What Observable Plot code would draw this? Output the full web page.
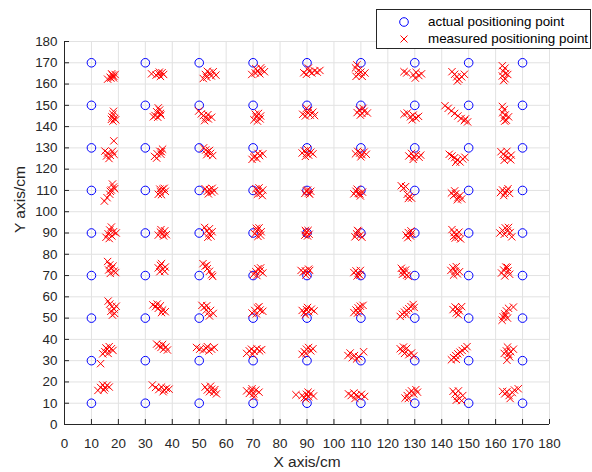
<!DOCTYPE html>
<html>
<head>
<meta charset="utf-8">
<script src="https://cdn.jsdelivr.net/npm/d3@7"></script>
<script src="https://cdn.jsdelivr.net/npm/@observablehq/plot@0.6"></script>
<style>
  html, body { margin: 0; padding: 0; background: white; }
  #wrap { position: relative; width: 592px; height: 472px; font-family: "Liberation Sans", Arial, Helvetica, sans-serif; }
  #legend { position: absolute; left: 376px; top: 9px; width: 213px; height: 38px; border: 1px solid #262626; background: white; font-size: 13.4px; color: #000; }
  .row { position: absolute; left: 0; height: 16px; line-height: 16px; white-space: nowrap; }
  .row svg { position: absolute; left: 21px; top: 2px; }
  .row span { position: absolute; left: 51px; top: 0; }
</style>
</head>
<body>
<div id="wrap">
  <div id="chart"></div>
  <div id="legend">
    <div class="row" style="top:4px"><svg width="12" height="12"><circle cx="6" cy="6" r="4.3" fill="none" stroke="#0000ff" stroke-width="1"/></svg><span>actual positioning point</span></div>
    <div class="row" style="top:21px"><svg width="12" height="12"><path d="M2.5,2.5L9.5,9.5M9.5,2.5L2.5,9.5" stroke="#ff0000" stroke-width="1"/></svg><span>measured positioning point</span></div>
  </div>
</div>
<script>
const xTicks = [0, 10, 20, 30, 40, 50, 60, 70, 80, 90, 100, 110, 120, 130, 140, 150, 160, 170, 180];
const yTicks = [0, 10, 20, 30, 40, 50, 60, 70, 80, 90, 100, 110, 120, 130, 140, 150, 160, 170, 180];
const actualX = [10, 30, 50, 70, 90, 110, 130, 150, 170];
const actualY = [10, 30, 50, 70, 90, 110, 130, 150, 170];

const measuredRow170 = [
  [16,162.3],[17,163.2],[17.8,164.2],[18.3,163.6],[17.5,164.8],[18.8,164.5],[17.2,162.8],[18.2,162.9],
  [32.3,164.8],[34,164.2],[35,164.9],[35.6,163.6],[36.2,165.3],[36.8,164.5],[35.2,165.6],
  [51.5,162.6],[52.3,164.5],[53,166],[53.8,165.2],[54.5,163.8],[55.2,165.8],[56.2,164.2],[52.8,163.2],
  [69.5,164.5],[70.8,165.2],[71.8,166],[72.5,164.8],[73.3,166.8],[74.2,165.8],[71,167.2],[72.8,167.6],
  [88.8,165.3],[89.8,164.6],[90.8,166],[91.8,165.2],[92.8,166.2],[93.8,165.6],[94.8,166.4],[90.5,167.5],
  [108.5,169],[108,167.6],[109.2,166.5],[110,165.6],[109,164.6],[110.5,163.6],[111.5,165.2],[108.2,163.6],
  [126,165.8],[127,165.2],[129.5,164.3],[130.5,165.5],[131.5,164],[132.5,164.8],[130.2,162.8],
  [143.8,165.8],[144.8,164.6],[145.6,163.4],[146.4,162.2],[147.4,163.4],[148.4,164.6],[145.8,161.4],
  [162.5,168.6],[163.5,167.5],[162.8,166],[163.8,165],[162.5,163.8],[163.5,162.5],[164.5,164.5],[163,161.6]
];
const measuredRow150 = [
  [18.2,147.2],[18,145.8],[17.6,144.6],[18.6,143.8],[18,142.6],[19,143.2],[17.4,143.4],
  [34.8,148.8],[35.3,147.8],[34.2,147],[35.6,146.2],[33.6,145.2],[34.6,144.4],[33,144.6],[35.8,145.4],
  [49.8,147.3],[50.8,146],[51.6,145.2],[52.4,144.2],[53.4,143.6],[54.6,144.4],[52,142.8],[53.2,145.6],
  [70.3,143.2],[71.2,144.6],[72,146.2],[72.8,145],[71.6,142.6],[72.6,143.6],[70.8,145.8],
  [88.4,145.8],[89.4,145],[90.4,146.5],[91.2,145.4],[92.2,146.8],[89.8,148.6],[90.6,147.6],[92.8,145.2],
  [108.6,146.6],[109.4,147.8],[110.4,146.2],[111.2,147.2],[112.4,146.4],[109.8,145.4],[110.8,148.6],
  [126,145.8],[127.2,146.4],[128.4,144.6],[129.4,145.4],[130.4,144],[131.4,144.8],[129,143.2],
  [141.2,149.8],[142.4,148.6],[143.6,147.4],[144.8,146.2],[146,145],[147.2,143.8],[148.4,142.8],[149.6,142.2],[148.8,143.6],
  [162.5,149.5],[163.2,148],[162.6,146.5],[163.6,145.5],[163,144],[164,143],[164.8,144.6],[163.4,142.6]
];
const measuredRow130 = [
  [18.3,133.3],[15,128.5],[16,127.6],[17,126.5],[16.5,125],[17.8,128.4],[18.4,127],[15.6,126.2],
  [33.4,126],[34.4,127.2],[35.4,128.4],[36.4,129.4],[35.8,127],[34.2,125.2],[36,128.2],
  [51.6,130],[52.4,129],[53.2,128.2],[54.2,127.4],[55,126.4],[53.8,128.8],[52.8,126.8],
  [69.6,124.6],[70.6,126.2],[71.4,125],[72.4,126.4],[73.6,127.2],[71.8,127.4],[70.2,125.6],
  [88.2,127.6],[89,128.6],[89.8,127.4],[90.6,126.6],[91.4,128],[92.2,127.2],[90.2,129.2],[89.4,126],
  [108,127.2],[108.8,128.4],[109.6,127.6],[110.4,126.8],[111.2,128],[112,127],[110,125.8],
  [127.8,126.2],[128.8,127.4],[129.6,125.8],[130.6,126.8],[131.6,125.6],[132.2,126.6],[129.4,124.6],
  [142.8,127],[143.8,126.2],[144.8,125.4],[145.8,124.4],[146.8,123.4],[147.8,124.8],[148.6,125.6],[145.2,123.2],
  [162,128.2],[162.8,127],[163.6,126.2],[164.6,125.4],[165.6,124.4],[163.2,124.2],[164.2,128.4],[165.8,126.6]
];
const measuredRow110 = [
  [14.8,105],[15.8,106.6],[16.8,108.2],[17.4,110.2],[18.2,111.6],[17.8,113],[17,109.6],[18.6,110.8],
  [34.8,108.2],[35.6,109.4],[36.4,110.6],[37.4,109.6],[36,108],[37,111],[35.4,110.6],
  [52.2,110.8],[53,109.6],[53.8,110.4],[54.6,109.2],[55.6,109.8],[53.4,108.4],[54.8,111],
  [71,110.8],[71.8,109.6],[72.6,108.6],[73.4,107.6],[72.2,111.2],[73.6,110.2],[71.6,108.2],
  [89.2,108.6],[89.8,109.8],[90.6,108.8],[91.4,109.6],[90.2,110.2],[91,108.2],
  [107.4,108.4],[108.2,109.6],[109,108.6],[109.8,107.4],[110.6,109.2],[108.6,110.6],[109.6,108.4],
  [125,112.2],[125.8,111],[126.6,111.8],[127.2,108.2],[128,107.2],[128.8,106.4],[127.6,106.2],
  [143.6,108.8],[144.4,107.6],[145.2,108.4],[146,106.6],[146.8,107.6],[147.4,106],[144.8,109.8],[145.8,105.6],
  [161.8,109],[162.6,110.2],[163.4,108.8],[164.2,109.8],[165.2,108.6],[163,107.6],[164.6,110.8]
];
const measuredRow90 = [
  [15.4,88],[16.2,89.6],[16.8,91.4],[17.4,92.8],[18.2,90.6],[19.2,90],[17.6,88.6],[16.6,87.4],
  [34.8,89],[35.6,90.4],[36.4,89.6],[37.2,91],[37.8,89.2],[35.8,91.6],[36.8,88.6],
  [52,92.6],[52.8,91],[53.6,89.8],[54.4,88.6],[53.2,88],[54.8,90.6],[53.8,92],
  [70.6,89.6],[71.4,91],[72.2,92.4],[72.8,89],[71.8,88.4],[73,90.6],[71.2,92.2],
  [89.2,89],[89.8,90.4],[90.4,91.2],[90.8,89.4],[89.4,91.2],[90.2,88.6],
  [107.8,88.2],[108.4,89.6],[109,90.8],[109.8,89],[110.4,88],[108.8,91.2],
  [126.8,89],[127.6,90.2],[128.4,88.6],[128.8,89.8],[127.4,87.8],[128.6,91],
  [143.8,91.6],[144.6,90.2],[145.4,89],[146.2,88],[147,87.2],[145,87.6],[146.4,90.4],[144.4,88.4],
  [161.6,90],[162.6,91.2],[163.6,92.4],[164.4,91],[165.4,90.2],[166,88.2],[163.2,89.4],[164.8,92.6]
];
const measuredRow70 = [
  [16,76.6],[16.8,75],[17.4,73.2],[18.4,72],[19,71.4],[17,71],[18,74.4],[16.4,72.6],
  [34.8,73.6],[35.6,74.8],[36.4,73],[37.2,72],[36,75.6],[37.4,74],[35.4,71.8],
  [51.4,75.6],[52.2,74.4],[53,73.2],[53.8,72],[54.6,70.4],[55,69.6],[52.8,74.8],
  [70.2,70.6],[71,71.8],[71.8,73.2],[72.6,72.2],[73.6,71.2],[71.4,70],[72.8,73.6],
  [87.8,72.4],[88.6,71.6],[89.4,72.2],[90.2,71],[91,72.4],[89.6,70.2],[90.6,73],
  [107.4,71.4],[108.2,72.2],[109,71],[109.6,70.2],[108.6,69.8],[109.8,72.4],
  [125,73.4],[125.6,72.2],[126.2,71.2],[127,70.2],[127.6,69.6],[126.6,72.6],[125.4,70.6],
  [143.4,72.4],[144.2,73.6],[145,72],[145.8,70.8],[146.6,71.8],[144.4,70.2],[145.4,74.2],
  [162.2,71.2],[163,72.6],[163.8,74],[164.6,72.2],[165.2,70.6],[163.4,69.8],[164.4,73.8]
];
const measuredRow50 = [
  [16.2,58],[16.8,56.6],[17.6,55.4],[18.4,54.2],[17.2,53.2],[18.6,52.2],[17.8,51.4],[19.2,55.6],
  [32.8,56.2],[33.8,55.4],[34.8,54.6],[35.6,55.8],[36.4,53.8],[37.4,53],[36,52.6],[34.4,56.6],
  [51,56],[51.8,55],[52.6,53.8],[53.4,52.6],[54.2,53.6],[55.2,52.2],[53.8,51],[52.8,55.8],
  [69.6,52.4],[70.6,53.6],[71.6,54.8],[72.6,53.8],[73.6,53.2],[71.2,52],[72.2,55.4],
  [88.2,53.6],[89,52.6],[89.8,54],[90.6,53],[91.6,54.2],[92.6,53.4],[89.4,51.6],[90.2,55],
  [107.4,52.6],[108.2,53.8],[109,54.8],[109.8,55.6],[110.8,56],[108.8,52.4],[109.6,53.4],
  [124.6,50.8],[125.4,51.8],[126.2,52.8],[127,53.6],[127.8,54.4],[128.6,55.4],[129.4,56.4],[129.8,55],[126.8,51.6],
  [144.2,54],[145,55.2],[145.8,54.4],[146.6,53.4],[147.4,55.4],[145.4,52.4],[146.2,51.6],
  [162.4,49],[162.8,50.6],[163.4,52],[164,53.4],[164.8,54.6],[166.6,55.2],[163.6,51],[164.4,50]
];
const measuredRow30 = [
  [13.4,28.6],[14.2,33.2],[15,34.2],[15.8,35.4],[16.6,36.6],[17.4,35.6],[18,34.8],[16.2,33.4],[15.4,36],
  [34.2,37.8],[35,37],[35.8,36.2],[36.8,35.4],[37.6,36.4],[38.2,35],[36.4,37.6],
  [49,36.2],[50.2,35.4],[51.6,35],[52.6,35.8],[53.6,34.6],[54.6,35.4],[55.6,36.2],[53,36.6],
  [67.6,33.4],[68.6,34.6],[69.4,35.4],[70.4,34.4],[71.4,35.6],[72.4,34.6],[73.2,35.2],[69.8,33],
  [88.2,33],[89,34.2],[89.8,35.4],[90.6,36.2],[91.4,34.6],[92.2,35.6],[89.6,33.4],
  [105.2,32.4],[106,33.6],[106.8,31.4],[107.6,32.4],[108.4,30.8],[109.2,31.8],[111,34.2],
  [124.6,35.6],[125.4,34.6],[126.2,33.4],[127,35.8],[127.8,32.8],[128.8,33.6],[129.6,32.2],[125.8,36.4],
  [143.6,30.4],[144.4,31.4],[145.2,32.4],[146,33.2],[146.8,34],[147.6,34.8],[148.6,35.6],[149.4,36.6],[145.4,30.6],
  [163.2,33.4],[164,34.6],[164.8,33],[165.6,34.2],[164.4,36.4],[165.2,31.8],[164.2,30.2],[166.6,35.4]
];
const measuredRow10 = [
  [12.4,16],[13.4,17.4],[14.2,18.6],[15,17.2],[15.8,18.4],[16.6,17.6],[14.6,16.2],
  [32.6,18.6],[33.8,17.4],[35,16.4],[36,17.6],[37,16.2],[37.8,17],[38.8,16.6],[36.6,15.4],
  [52.2,17.6],[53,16.2],[53.8,15.4],[54.6,16.6],[55.4,15.2],[56.4,14.4],[54.2,18],[55.8,16.4],
  [67.6,15.8],[68.6,14.6],[69.4,15.8],[70.2,14.4],[71,16.2],[72.2,15.2],[70.4,13],[69.6,16.8],
  [85.9,14],[88.2,13.6],[89,12.6],[89.8,14.2],[90.6,13],[91.4,14.6],[92.4,13.4],[89.6,12],[90.4,15.2],
  [105.4,14.4],[106.4,13.6],[107.4,14.8],[108.2,13.8],[109.2,13],[110.2,14.2],[111.4,13.2],[107.8,12.2],
  [126.4,12.4],[127.2,13.6],[128,14.8],[128.8,15.8],[129.6,14.4],[130.4,16.4],[131,15.2],[127.6,12.2],
  [144.2,15.6],[145,14.4],[145.8,13.2],[146.6,12.2],[147.4,11.2],[145.4,11.4],[146.2,15.8],[147.8,13.6],
  [162.6,15.6],[163.4,14.4],[164.2,15.4],[165,13.6],[165.4,12.2],[166.2,15],[167,16.2],[168.4,16.8]
];

const actual = actualY.flatMap(y => actualX.map(x => ({x, y})));
const measured = [measuredRow170, measuredRow150, measuredRow130, measuredRow110, measuredRow90,
  measuredRow70, measuredRow50, measuredRow30, measuredRow10].flat().map(([x, y]) => ({x, y}));

const W = 592, H = 472, mL = 64, mR = 43, mT = 41, mB = 48;
const axisColor = "#262626";

const chart = Plot.plot({
  width: W,
  height: H,
  marginLeft: mL,
  marginRight: mR,
  marginTop: mT,
  marginBottom: mB,
  x: {domain: [0, 180]},
  y: {domain: [0, 180]},
  style: {fontFamily: '"Liberation Sans", Arial, Helvetica, sans-serif', fontSize: "13.4px", color: axisColor, background: "white", overflow: "visible"},
  marks: [
    Plot.gridX(xTicks, {stroke: "#e2e2e2", strokeOpacity: 1}),
    Plot.gridY(yTicks, {stroke: "#e2e2e2", strokeOpacity: 1}),
    Plot.tickX(xTicks, {x: d => d, stroke: axisColor, insetTop: H - mT - mB - 5}),
    Plot.tickY(yTicks, {y: d => d, stroke: axisColor, insetRight: W - mL - mR - 5}),
    Plot.ruleX([0], {stroke: axisColor}),
    Plot.ruleY([0], {stroke: axisColor}),
    Plot.axisX(xTicks, {tickSize: 0, tickPadding: 14, label: null, fill: axisColor}),
    Plot.axisY(yTicks, {tickSize: 0, tickPadding: 7, label: null, fill: axisColor}),
    Plot.text(["X axis/cm"], {frameAnchor: "bottom", dy: 42, text: d => d, fontSize: 15.5, fill: axisColor}),
    Plot.text(["Y axis/cm"], {frameAnchor: "left", dx: -44, rotate: -90, text: d => d, fontSize: 15.5, fill: axisColor}),
    Plot.dot(actual, {x: "x", y: "y", r: 4.3, stroke: "#0000ff", strokeWidth: 1, fill: "none"}),
    Plot.dot(measured, {x: "x", y: "y", symbol: "times", r: 3.4, stroke: "#ff0000", strokeWidth: 1})
  ]
});
document.getElementById("chart").appendChild(chart);
</script>
</body>
</html>
